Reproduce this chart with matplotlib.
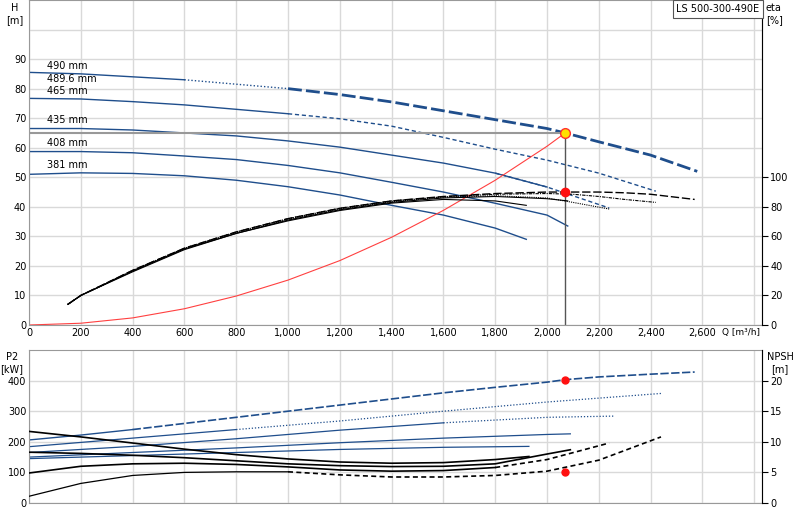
import numpy as np
import matplotlib.pyplot as plt

# head curves Q [m3/h], H [m]
q490 = [0, 200, 400, 600, 800, 1000, 1200, 1400, 1600, 1800, 2000, 2070, 2200, 2400, 2580]
h490 = [85.5, 85, 84, 83, 81.5, 80, 78, 75.5, 72.5, 69.5, 66.5, 65, 62, 57.5, 52]
q465 = [0, 200, 400, 600, 800, 1000, 1200, 1400, 1600, 1800, 2000, 2200, 2420]
h465 = [76.7, 76.5, 75.6, 74.5, 73, 71.5, 69.8, 67.3, 63.5, 59.5, 55.8, 51.4, 45.3]
q435 = [0, 200, 400, 600, 800, 1000, 1200, 1400, 1600, 1800, 2000, 2240]
h435 = [66.5, 66.5, 66, 65, 64, 62.3, 60.2, 57.5, 54.8, 51.4, 46.7, 39.6]
q408 = [0, 200, 400, 600, 800, 1000, 1200, 1400, 1600, 1800, 2000, 2080]
h408 = [58.7, 58.7, 58.3, 57.2, 56, 54, 51.5, 48.3, 45, 41.2, 37.2, 33.5]
q381 = [0, 200, 400, 600, 800, 1000, 1200, 1400, 1600, 1800, 1920]
h381 = [51, 51.5, 51.3, 50.5, 49, 46.8, 44, 40.5, 37.2, 32.8, 29]
labels = ["490 mm", "489.6 mm", "465 mm", "435 mm", "408 mm", "381 mm"]
label_h = [87.7, 83.2, 79.2, 69.5, 61.6, 54]

# efficiency curves [%]
qe_base = [150, 200, 400, 600, 800, 1000, 1200, 1400, 1600]
e_base = [14, 20, 37, 52, 63, 72, 79, 84, 87]
qe490 = qe_base + [1800, 2000, 2100, 2200, 2300, 2400, 2570]
e490 = e_base + [89, 90, 90, 90, 89.5, 88.5, 85]
qe465 = qe_base + [1800, 2000, 2100, 2200, 2300, 2420]
e465 = [14, 20, 37, 52, 63, 72, 79, 84, 86.8, 88.5, 89, 88.5, 87, 85, 83]
qe435 = qe_base + [1800, 2000, 2100, 2240]
e435 = [14, 20, 36.5, 51.5, 62.5, 71.5, 78.5, 83.5, 86.5, 87.5, 86, 83, 78.5]
qe408 = qe_base + [1800, 2000, 2080]
e408 = [14, 20, 36.5, 51.5, 62, 71, 78, 83, 86, 87, 85.5, 84]
qe381 = qe_base + [1800, 1920]
e381 = [14, 20, 36, 51, 62, 70.5, 77.5, 82.5, 85, 84, 81]

# system curve
q_sys = [0, 200, 400, 600, 800, 1000, 1200, 1400, 1600, 1800, 2000, 2070]
h_sys = [0, 0.6, 2.4, 5.5, 9.8, 15.2, 21.8, 29.7, 38.8, 49, 60.5, 65]
q_op, h_op, eta_op, p2_op, npsh_op = 2070, 65, 90, 403, 5

# power P2 [kW]
qp490 = [0, 200, 400, 600, 800, 1000, 1200, 1400, 1600, 1800, 2000, 2070, 2200, 2400, 2570]
p490 = [206, 222, 240, 260, 280, 300, 320, 340, 360, 378, 395, 403, 412, 421, 428]
qp465 = [0, 400, 800, 1200, 1600, 2000, 2440]
p465 = [184, 212, 240, 268, 300, 330, 358]
qp435 = [0, 400, 800, 1200, 1600, 2000, 2260]
p435 = [165, 185, 210, 238, 262, 280, 284]
qp408 = [0, 400, 800, 1200, 1600, 2000, 2090]
p408 = [150, 165, 180, 197, 212, 224, 226]
qp381 = [0, 400, 800, 1200, 1600, 1930]
p381 = [145, 155, 165, 175, 182, 185]

# NPSH [m]
qn1 = [0, 200, 400, 600, 800, 1000, 1200, 1400, 1600, 1800, 1930]
n1 = [11.7, 10.8, 9.8, 8.8, 7.9, 7.2, 6.7, 6.5, 6.6, 7.1, 7.6]
qn2 = [0, 200, 400, 600, 800, 1000, 1200, 1400, 1600, 1800, 2000, 2090]
n2 = [8.3, 8.1, 7.8, 7.4, 6.9, 6.4, 6.1, 5.95, 6.0, 6.4, 8.0, 8.7]
qn3 = [0, 200, 400, 600, 800, 1000, 1200, 1400, 1600, 1800, 2000, 2240]
n3 = [4.9, 6.0, 6.4, 6.5, 6.3, 5.9, 5.4, 5.2, 5.3, 5.8, 7.1, 9.8]
qn4 = [0, 200, 400, 600, 800, 1000, 1200, 1400, 1600, 1800, 2000, 2200, 2440]
n4 = [1.1, 3.2, 4.5, 5.0, 5.1, 5.1, 4.6, 4.25, 4.25, 4.5, 5.2, 7.0, 10.8]

blue = '#1f4e8c'
grid = '#d9d9d9'
fs = 7

fig = plt.figure(figsize=(8, 5.2), dpi=100)
ax = fig.add_axes([29/800, 1-325/520, 733/800, 325/520])
ax2 = ax.twinx()
bx = fig.add_axes([29/800, 1-503/520, 733/800, 153/520])
bx2 = bx.twinx()

for a in (ax, bx):
    a.set_xlim(0, 2830)
    a.set_xticks(np.arange(0, 2801, 200))
    a.grid(True, color=grid, lw=1)
    a.set_axisbelow(True)
    a.tick_params(labelsize=fs, length=0, pad=2)
    for s in a.spines.values():
        s.set_color('#999999')

ax.set_ylim(0, 110)
ax.set_yticks(np.arange(0, 101, 10))
ax.set_yticklabels([str(v) for v in range(0, 100, 10)] + [''])
ax.set_xticklabels(['0', '200', '400', '600', '800', '1,000', '1,200', '1,400', '1,600',
                    '1,800', '2,000', '2,200', '2,400', '2,600', ''])
ax2.set_ylim(0, 220)
ax2.set_yticks(np.arange(0, 101, 20))
ax2.tick_params(labelsize=fs, length=4, pad=2)
ax2.spines['right'].set_color('black')
for k in ('left', 'top', 'bottom'):
    ax2.spines[k].set_visible(False)

# head curves
def seg(a, q, h, q0, q1, **kw):
    q = np.array(q, float); h = np.array(h, float)
    m = (q >= q0) & (q <= q1)
    a.plot(q[m], h[m], **kw)

seg(ax, q490, h490, 0, 600, color=blue, lw=1)
seg(ax, q490, h490, 600, 1000, color=blue, lw=1, ls=(0, (1, 1.5)))
seg(ax, q490, h490, 1000, 2600, color=blue, lw=2, ls=(0, (5, 1.5)))
seg(ax, q465, h465, 0, 1000, color=blue, lw=1)
seg(ax, q465, h465, 1000, 2500, color=blue, lw=1, ls=(0, (3, 2)))
seg(ax, q435, h435, 0, 2000, color=blue, lw=1)
seg(ax, q435, h435, 1800, 2300, color=blue, lw=1, ls=(0, (3, 2)))
ax.plot(q408, h408, color=blue, lw=1)
ax.plot(q381, h381, color=blue, lw=1)
for t, y in zip(labels, label_h):
    ax.text(70, y, t, fontsize=fs, va='center')

# efficiency
ax2.plot(qe490, e490, color='black', lw=1, ls=(0, (6, 2)))
ax2.plot(qe465, e465, color='black', lw=0.8, ls=(0, (3, 1, 1, 1)))
ax2.plot(qe435, e435, color='black', lw=0.8, ls=(0, (1, 1)))
ax2.plot(qe408, e408, color='black', lw=0.8)
ax2.plot(qe381, e381, color='black', lw=0.8)

# system curve and duty point
ax.plot(q_sys, h_sys, color='#ff4040', lw=0.8)
ax.plot([0, q_op], [h_op, h_op], color='#999999', lw=1.5)
ax.plot([q_op, q_op], [0, h_op], color='#555555', lw=1)
ax.plot(q_op, h_op, 'o', ms=7, mfc='#ffe000', mec='#ff3030', zorder=5)
ax2.plot(q_op, eta_op, 'o', ms=6, color='#ff1010', zorder=5)

fig.text(15/800, 1-3/520, 'H\n[m]', fontsize=fs, ha='center', va='top', linespacing=1.2)
fig.text(766/800, 1-3/520, 'eta\n[%]', fontsize=fs, ha='left', va='top', linespacing=1.2)
fig.text(722/800, 1-333/520, 'Q [m³/h]', fontsize=6.5, ha='left', va='center')
fig.text(718/800, 1-9/520, 'LS 500-300-490E', fontsize=fs, ha='center', va='center',
         bbox=dict(boxstyle='square,pad=0.4', fc='white', ec='#555555', lw=0.8))

# bottom: power and NPSH
bx.set_ylim(0, 500)
bx.set_yticks(np.arange(0, 401, 100))
bx.set_xticklabels([])
bx2.set_ylim(0, 25)
bx2.set_yticks(np.arange(0, 21, 5))
bx2.tick_params(labelsize=fs, length=4, pad=2)
bx2.spines['right'].set_color('black')
for k in ('left', 'top', 'bottom'):
    bx2.spines[k].set_visible(False)

seg(bx, qp490, p490, 0, 400, color=blue, lw=1)
seg(bx, qp490, p490, 400, 2600, color=blue, lw=1.2, ls=(0, (5, 1.5)))
seg(bx, qp465, p465, 0, 800, color=blue, lw=0.9)
seg(bx, qp465, p465, 800, 2500, color=blue, lw=0.9, ls=(0, (1, 1.5)))
seg(bx, qp435, p435, 0, 1600, color=blue, lw=0.9)
seg(bx, qp435, p435, 1600, 2300, color=blue, lw=0.9, ls=(0, (1, 1.5)))
bx.plot(qp408, p408, color=blue, lw=0.9)
bx.plot(qp381, p381, color=blue, lw=0.9)
bx.plot(q_op, p2_op, 'o', ms=5, color='#ff1010', zorder=5)

bx2.plot(qn1, n1, color='black', lw=1.2)
bx2.plot(qn2, n2, color='black', lw=1.2)
seg(bx2, qn3, n3, 0, 1800, color='black', lw=1.2)
seg(bx2, qn3, n3, 1800, 2300, color='black', lw=1.2, ls=(0, (3, 2)))
seg(bx2, qn4, n4, 0, 1000, color='black', lw=0.9)
seg(bx2, qn4, n4, 1000, 2500, color='black', lw=1.2, ls=(0, (3, 2)))
bx2.plot(q_op, npsh_op, 'o', ms=5, color='#ff1010', zorder=5)

fig.text(12/800, 1-352/520, 'P2\n[kW]', fontsize=fs, ha='center', va='top', linespacing=1.2)
fig.text(780/800, 1-352/520, 'NPSH\n[m]', fontsize=fs, ha='center', va='top', linespacing=1.2)

fig.savefig('out.png', dpi=100)
